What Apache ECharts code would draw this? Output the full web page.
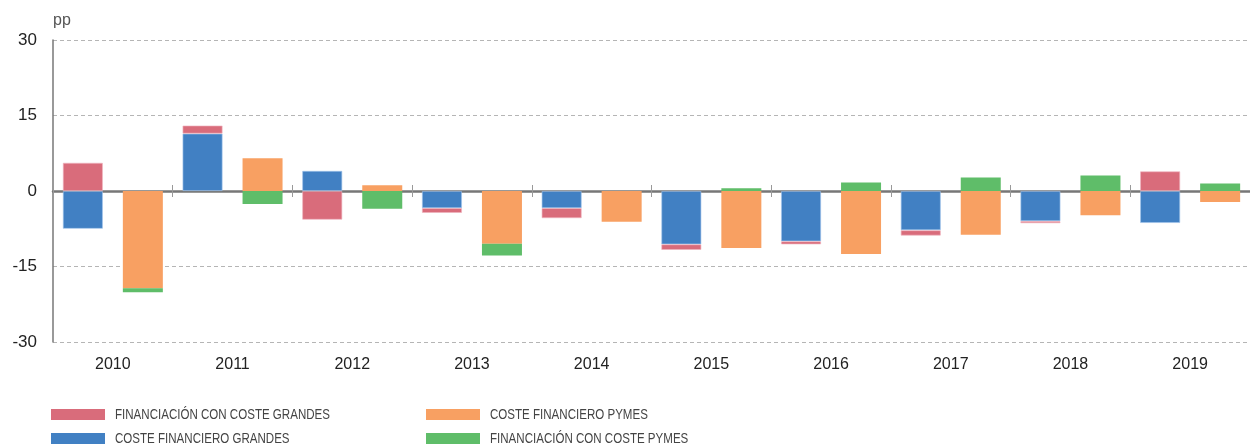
<!DOCTYPE html>
<html>
<head>
<meta charset="utf-8">
<script src="https://cdn.jsdelivr.net/npm/echarts@6/dist/echarts.min.js"></script>
<style>html,body{margin:0;padding:0;background:#fff;}#c{width:1250px;height:447px;}</style>
</head>
<body>
<div id="c"></div>
<script>
var years = ['2010','2011','2012','2013','2014','2015','2016','2017','2018','2019'];
var costeGrandes = [-7.5, 11.4, 4.0, -3.4, -3.4, -10.6, -10.0, -7.8, -6.0, -6.35];
var financGrandes = [5.6, 1.6, -5.7, -0.95, -2.0, -1.1, -0.6, -1.05, -0.4, 3.9];
var costePymes = [-19.3, 6.5, 1.15, -10.5, -6.1, -11.3, -12.5, -8.7, -4.8, -2.2];
var financPymes = [-0.8, -2.6, -3.55, -2.3, 0, 0.55, 1.7, 2.7, 3.1, 1.5];
var yTicks = [-30, -15, 0, 15, 30];

var names = {
  fg: 'FINANCIACIÓN CON COSTE GRANDES',
  cg: 'COSTE FINANCIERO GRANDES',
  cp: 'COSTE FINANCIERO PYMES',
  fp: 'FINANCIACIÓN CON COSTE PYMES'
};
var colors = {fg:'#d96c7b', cg:'#4180c3', cp:'#f8a062', fp:'#5fbd69'};
var baseFont = '"Liberation Sans", Arial, sans-serif';

// legend entries: [key, left, top]
var legendPos = [['fg', 51, 409], ['cg', 51, 433], ['cp', 426, 409], ['fp', 426, 433]];

var legends = legendPos.map(function (p) {
  return {
    left: p[1], top: p[2], padding: 0,
    itemWidth: 54, itemHeight: 11, icon: 'rect',
    itemStyle: {borderWidth: 0},
    data: [names[p[0]]],
    formatter: function () { return ''; },
    textStyle: {fontSize: 1, padding: 0}
  };
});
var legendTexts = legendPos.map(function (p) {
  return {
    type: 'text', x: p[1] + 64, y: p[2] + 6, scaleX: 0.77, silent: true,
    style: {text: names[p[0]], font: '15px ' + baseFont, fill: '#444', verticalAlign: 'middle'}
  };
});

var chart = echarts.init(document.getElementById('c'), null, {renderer:'canvas'});
chart.setOption({
  animation: false,
  grid: {left: 53, right: 0, top: 40, bottom: 105, containLabel: false},
  graphic: [{
    type: 'text', left: 53, top: 13,
    style: {text: 'pp', font: '16px ' + baseFont, fill: '#555'}
  }].concat(legendTexts),
  legend: legends,
  xAxis: [{
    type: 'category', data: years, position: 'bottom',
    axisLine: {onZero: true, onZeroAxisIndex: 0, lineStyle: {color: '#777', width: 2.5}},
    axisTick: {show: true, length: 6, lineStyle: {color: '#999', width: 1}},
    axisLabel: {show: false},
    splitLine: {show: false}
  }, {
    type: 'category', data: years, position: 'bottom',
    axisLine: {onZero: true, onZeroAxisIndex: 1, show: false},
    axisTick: {show: true, inside: true, length: 6, lineStyle: {color: '#999', width: 1}},
    axisLabel: {show: false},
    splitLine: {show: false}
  }, {
    type: 'category', data: years, position: 'bottom',
    axisLine: {onZero: false, show: false},
    axisTick: {show: false},
    axisLabel: {show: true, margin: 15, fontSize: 16, color: '#222', fontFamily: baseFont},
    splitLine: {show: false}
  }],
  yAxis: [{
    type: 'value', min: yTicks[0], max: yTicks[yTicks.length-1], interval: 15,
    axisLine: {show: true, onZero: false, lineStyle: {color: '#777', width: 1.5}},
    axisTick: {show: false},
    axisLabel: {fontSize: 17, color: '#222', margin: 16, fontFamily: baseFont},
    splitLine: {show: true, lineStyle: {color: '#b5b5b5', type: [4, 3], width: 1}}
  }, {
    type: 'value', position: 'left', min: yTicks[0], max: yTicks[yTicks.length-1], interval: 15,
    axisLine: {show: false, onZero: false},
    axisTick: {show: false},
    axisLabel: {show: false},
    splitLine: {show: false}
  }],
  series: [
    {name: names.cg, type: 'bar', stack: 'g', data: costeGrandes, barWidth: 40, barGap: '50%',
     itemStyle: {color: colors.cg, borderColor: 'rgba(160,195,235,0.8)', borderWidth: 0.8}},
    {name: names.fg, type: 'bar', stack: 'g', data: financGrandes, barWidth: 40, barGap: '50%',
     itemStyle: {color: colors.fg, borderColor: 'rgba(240,180,190,0.8)', borderWidth: 0.8}},
    {name: names.cp, type: 'bar', stack: 'p', data: costePymes, barWidth: 40, barGap: '50%',
     itemStyle: {color: colors.cp}},
    {name: names.fp, type: 'bar', stack: 'p', data: financPymes, barWidth: 40, barGap: '50%',
     itemStyle: {color: colors.fp}}
  ]
});
</script>
</body>
</html>
